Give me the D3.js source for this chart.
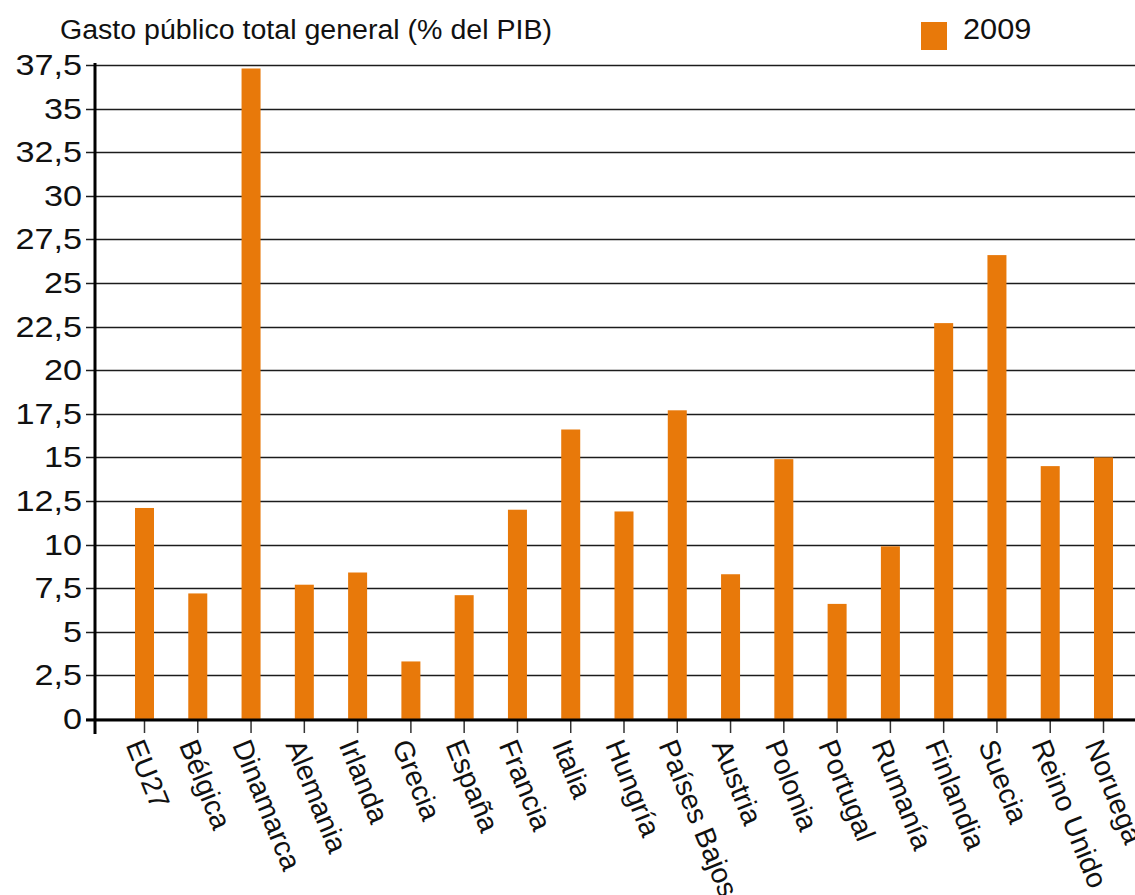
<!DOCTYPE html>
<html>
<head>
<meta charset="utf-8">
<script src="https://cdn.jsdelivr.net/npm/d3@7/dist/d3.min.js"></script>
<style>
  html, body { margin: 0; padding: 0; background: #fff; }
  svg { display: block; }
  text { font-family: "Liberation Sans", Arial, sans-serif; fill: #111; }
</style>
</head>
<body>
<svg id="chart" width="1135" height="895"></svg>
<script>
// Public spending, % of GDP, 2009
const countries = ["EU27", "Bélgica", "Dinamarca", "Alemania", "Irlanda", "Grecia", "España",
  "Francia", "Italia", "Hungría", "Países Bajos", "Austria", "Polonia", "Portugal", "Rumanía",
  "Finlandia", "Suecia", "Reino Unido", "Noruega"];
const values2009 = [12.1, 7.2, 37.3, 7.7, 8.4, 3.3, 7.1, 12.0, 16.6, 11.9, 17.7, 8.3, 14.9, 6.6,
  9.9, 22.7, 26.6, 14.5, 15.0];
const yTicks = [0, 2.5, 5, 7.5, 10, 12.5, 15, 17.5, 20, 22.5, 25, 27.5, 30, 32.5, 35, 37.5];
const yTickLabels = ["0", "2,5", "5", "7,5", "10", "12,5", "15", "17,5", "20", "22,5", "25",
  "27,5", "30", "32,5", "35", "37,5"];
const seriesName = "2009";
const titleText = "Gasto público total general (% del PIB)";

const barColor = "#e8790a";
const svg = d3.select("#chart");

const axisX = 95, baseY = 719, topY = 65, rightX = 1135;
const y = d3.scaleLinear().domain([0, 37.5]).range([baseY, topY]);
const x = d3.scalePoint().domain(countries).range([144.5, 1103.5]);
const barW = 19;

// horizontal grid lines with short ticks left of the axis
svg.append("g").selectAll("line").data(yTicks).join("line")
  .attr("x1", 86).attr("x2", rightX)
  .attr("y1", d => Math.round(y(d)) + 0.5).attr("y2", d => Math.round(y(d)) + 0.5)
  .attr("stroke", "#1c1c1c").attr("stroke-width", 1.3);

// y tick labels
svg.append("g").selectAll("text").data(yTicks).join("text")
  .attr("transform", d => `translate(82,${y(d) + 10}) scale(1.18,1)`)
  .attr("text-anchor", "end")
  .style("font-size", "29px")
  .text((d, i) => yTickLabels[i]);

// bars
svg.append("g").selectAll("rect").data(countries).join("rect")
  .attr("x", d => x(d) - barW / 2)
  .attr("width", barW)
  .attr("y", (d, i) => y(values2009[i]))
  .attr("height", (d, i) => baseY - y(values2009[i]))
  .attr("fill", barColor);

// category ticks
svg.append("g").selectAll("line").data(countries).join("line")
  .attr("x1", d => x(d)).attr("x2", d => x(d))
  .attr("y1", 720).attr("y2", 733)
  .attr("stroke", "#333").attr("stroke-width", 1.5);

// axes
svg.append("line").attr("x1", 86).attr("x2", rightX).attr("y1", 720).attr("y2", 720)
  .attr("stroke", "#000").attr("stroke-width", 3);
svg.append("line").attr("x1", axisX).attr("x2", axisX).attr("y1", 63).attr("y2", 734)
  .attr("stroke", "#000").attr("stroke-width", 3);

// rotated category labels
svg.append("g").selectAll("text").data(countries).join("text")
  .attr("transform", d => `translate(${x(d)},737) rotate(68)`)
  .attr("dy", "0.72em")
  .attr("text-anchor", "start")
  .style("font-size", "28.5px")
  .text(d => d);

// title
svg.append("text")
  .attr("x", 60).attr("y", 39)
  .style("font-size", "27px")
  .attr("textLength", 492).attr("lengthAdjust", "spacingAndGlyphs")
  .text(titleText);

// legend
svg.append("rect").attr("x", 921).attr("y", 22).attr("width", 26).attr("height", 28)
  .attr("fill", barColor);
svg.append("text")
  .attr("transform", "translate(963,39) scale(1.06,1)")
  .style("font-size", "29px")
  .text(seriesName);
</script>
</body>
</html>
